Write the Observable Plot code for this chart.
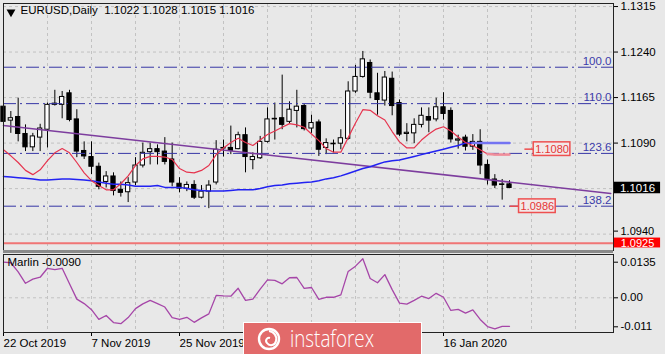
<!DOCTYPE html>
<html><head><meta charset="utf-8">
<script src="https://cdn.jsdelivr.net/npm/d3@7"></script>
<script src="https://cdn.jsdelivr.net/npm/@observablehq/plot@0.6"></script>
<style>
html,body{margin:0;padding:0;background:#e8e8e8;}
#chart{position:relative;width:665px;height:354px;overflow:hidden;background:#e8e8e8;font-family:"Liberation Sans",Arial,sans-serif;}
#main{position:absolute;left:0;top:0;}
#osc{position:absolute;left:0;top:252px;}
#sep{position:absolute;left:3px;width:610px;top:250px;height:3px;background:#8a8a8a;}
#logo{position:absolute;left:243px;top:322px;}
</style></head><body>
<div id="chart"><div id="main"></div><div id="sep"></div><div id="osc"></div>
<svg id="logo" width="180" height="34" viewBox="0 0 180 34">
<rect x="0.5" y="0.5" width="178" height="40" fill="#e26a6a" stroke="#ffffff" stroke-width="1"/>
<circle cx="26" cy="17" r="10" fill="none" stroke="#fff" stroke-width="2.4"/>
<path d="M26 9 A8 8 0 0 1 33 19 A5 5 0 0 1 24 21 A3 3 0 0 1 27 16" fill="none" stroke="#fff" stroke-width="2"/>
<text x="47" y="25" fill="#fff" font-family="Open Sans, sans-serif" font-weight="300" font-size="23" textLength="84" lengthAdjust="spacingAndGlyphs">instaforex</text>
</svg>
</div>
<script>
// ---- data (EURUSD daily, bar index 0 = 22 Oct 2019) ----
const opens = [1.1150,1.1127,1.1133,1.1105,1.1083,1.1099,1.1112,1.1153,1.1153,1.1172,
1.1129,1.1077,1.1067,1.1051,1.1026,1.1035,1.1013,1.1009,1.1025,1.1053,
1.1075,1.1080,1.1076,1.1063,1.1023,1.1015,1.1021,1.1000,1.1010,1.1025,
1.1081,1.1082,1.1080,1.1103,1.1062,1.1065,1.1092,1.1129,1.1131,1.1125,
1.1143,1.1151,1.1114,1.1124,1.1082,1.1088,1.1089,1.1097,1.1175,1.1199,
1.1222,1.1172,1.1160,1.1196,1.1156,1.1105,1.1106,1.1120,1.1133,1.1129,
1.1149,1.1143,1.1094,1.1099,1.1084,1.1092,1.1054,1.1030,1.1021,1.1022];
const highs = [1.1159,1.1142,1.1164,1.1120,1.1106,1.1121,1.1156,1.1177,1.1175,1.1177,
1.1145,1.1092,1.1092,1.1057,1.1043,1.1041,1.1026,1.1033,1.1066,1.1090,
1.1090,1.1087,1.1099,1.1090,1.1033,1.1026,1.1028,1.1020,1.1028,1.1094,
1.1095,1.1118,1.1108,1.1115,1.1074,1.1101,1.1148,1.1156,1.1202,1.1158,
1.1177,1.1154,1.1136,1.1128,1.1097,1.1095,1.1112,1.1191,1.1218,1.1241,
1.1227,1.1205,1.1208,1.1207,1.1161,1.1122,1.1130,1.1148,1.1148,1.1164,
1.1173,1.1148,1.1103,1.1103,1.1104,1.1112,1.1062,1.1038,1.1030,1.1028];
const lows = [1.1120,1.1106,1.1092,1.1076,1.1076,1.1076,1.1082,1.1151,1.1130,1.1125,
1.1066,1.1063,1.1038,1.1013,1.1016,1.1003,1.1001,1.0992,1.1020,1.1049,
1.1054,1.1054,1.1054,1.1018,1.1008,1.1010,1.0997,1.0998,1.0982,1.1021,
1.1067,1.1071,1.1079,1.1041,1.1046,1.1063,1.1090,1.1095,1.1112,1.1122,
1.1115,1.1110,1.1106,1.1068,1.1071,1.1074,1.1079,1.1095,1.1172,1.1197,
1.1163,1.1136,1.1151,1.1135,1.1101,1.1092,1.1089,1.1115,1.1107,1.1125,
1.1128,1.1090,1.1080,1.1077,1.1078,1.1038,1.1021,1.1015,1.0996,1.1015];
const closes = [1.1125,1.1131,1.1105,1.1083,1.1101,1.1114,1.1153,1.1155,1.1166,1.1128,
1.1076,1.1068,1.1051,1.1018,1.1035,1.1011,1.1008,1.1024,1.1053,1.1074,
1.1080,1.1075,1.1059,1.1025,1.1015,1.1021,1.1000,1.1010,1.1020,1.1079,
1.1082,1.1077,1.1103,1.1067,1.1067,1.1092,1.1129,1.1130,1.1120,1.1145,
1.1150,1.1113,1.1123,1.1079,1.1090,1.1089,1.1098,1.1175,1.1199,1.1228,
1.1173,1.1161,1.1198,1.1151,1.1104,1.1107,1.1120,1.1135,1.1127,1.1149,
1.1138,1.1096,1.1096,1.1084,1.1092,1.1053,1.1029,1.1020,1.1022,1.1016];
const redMA = [1.1079,1.1069,1.1058,1.1045,1.1038,1.1046,1.1061,1.1074,1.1081,1.1074,
1.1058,1.1041,1.1028,1.1020,1.1013,1.1013,1.1023,1.1036,1.1053,1.1064,
1.1068,1.1068,1.1067,1.1063,1.1048,1.1042,1.1041,1.1045,1.1053,1.1071,
1.1082,1.1091,1.1098,1.1091,1.1086,1.1095,1.1104,1.1110,1.1116,1.1122,
1.1120,1.1116,1.1105,1.1094,1.1081,1.1075,1.1075,1.1099,1.1123,1.1145,
1.1144,1.1135,1.1128,1.1109,1.1092,1.1082,1.1082,1.1095,1.1105,1.1113,
1.1117,1.1110,1.1100,1.1091,1.1086,1.1079,1.1072,1.1071,1.1071,1.1071];
const blueMA = [1.1035,1.1034,1.1033,1.1032,1.1031,1.1029,1.1029,1.1030,1.1031,1.1031,
1.1030,1.1029,1.1028,1.1026,1.1024,1.1022,1.1022,1.1021,1.1019,1.1019,
1.1019,1.1020,1.1017,1.1017,1.1017,1.1015,1.1013,1.1012,1.1011,1.1011,
1.1011,1.1012,1.1013,1.1013,1.1013,1.1015,1.1018,1.1020,1.1021,1.1023,
1.1024,1.1025,1.1026,1.1028,1.1031,1.1033,1.1036,1.1040,1.1044,1.1048,
1.1051,1.1055,1.1059,1.1061,1.1062,1.1065,1.1068,1.1071,1.1074,1.1077,
1.1080,1.1083,1.1086,1.1090,1.1090,1.1090,1.1090,1.1090,1.1090,1.1090];
const marlin = [0.0135,0.0133,0.0098,0.0055,0.0071,0.0078,0.0112,0.0107,0.0112,0.0053,
-0.0005,-0.0022,-0.0045,-0.0082,-0.0067,-0.0094,-0.0098,-0.0075,-0.0041,-0.0023,
-0.0010,-0.0022,-0.0035,-0.0075,-0.0082,-0.0074,-0.0093,-0.0076,-0.0061,0.0009,
0.0007,0.0006,0.0036,-0.0010,-0.0005,0.0033,0.0068,0.0066,0.0053,0.0076,
0.0077,0.0036,0.0039,-0.0006,0.0002,0.0002,0.0011,0.0100,0.0120,0.0148,
0.0073,0.0057,0.0088,0.0031,-0.0020,-0.0024,-0.0010,0.0006,-0.0003,0.0017,
0.0002,-0.0048,-0.0044,-0.0058,-0.0046,-0.0082,-0.0109,-0.0118,-0.0108,-0.0108];
const fibLabels = ["100.0","110.0","123.6","138.2"];
const fibPrices = [1.1215,1.1155,1.1073,1.0986];
const trendBars = [0, 82.8];
const trendPrices = [1.1119, 1.1007];
const supportLevel = 1.0925;
const currentPrice = 1.1016;
const targetPrices = [1.1080, 1.0986];
const targetBars = [74.8, 72.8];
const priceTicks = [1.1315,1.1240,1.1165,1.1090];
const lowPriceTicks = [1.0940];
const gridPrices = [1.1315,1.1240,1.1165,1.1090,1.1015,1.0940];
const gridBars = [6,12,18,24,30,36,42,48,54,60,66,72,78];
// 11 Dec 2019 and 30 Dec 2019 (bars 36, 48) lie under the logo in the reference
const dateTickBars = [0,12,24,60];
const dateTickLabels = ["22 Oct 2019","7 Nov 2019","25 Nov 2019","16 Jan 2020"];
const marlinTicks = [0.0135, 0, -0.011];
const marlinTickLabels = ["0.0135","0.00","-0.011"];
const header = "EURUSD,Daily  1.1022 1.1028 1.1015 1.1016";
const marlinTitle = "Marlin -0.0090";

// ---- derived tables ----
const bars = opens.map((o,i)=>({i,o,h:highs[i],l:lows[i],c:closes[i]}));
const red = redMA.map((p,i)=>({i,p}));
const blue = blueMA.map((p,i)=>({i,p}));
const osc = marlin.map((v,i)=>({i,v}));
const fibs = fibPrices.map((p,k)=>({p,label:fibLabels[k]}));
const trend = trendBars.map((i,k)=>({i,p:trendPrices[k]}));
const targets = targetPrices.map((p,k)=>({p,at:targetBars[k]}));
const xDomain = [0, 83.18];
const axisBoxL = 83.3, axisBoxR = 89.6;
const grid = {stroke:"#c2c2c2", strokeDasharray:"3,3", strokeWidth:1};
const FONT = "Liberation Sans, Arial, sans-serif";

const main = Plot.plot({
  width:665, height:252, marginLeft:3, marginRight:52, marginTop:3, marginBottom:2,
  style:{background:"transparent", fontFamily:FONT, fontSize:"11.5px", color:"#000"},
  x:{domain:xDomain, axis:null},
  y:{domain:[1.0913,1.1320], axis:null},
  marks:[
    Plot.ruleY(gridPrices, grid),
    Plot.ruleX(gridBars, grid),
    Plot.ruleY([supportLevel], {stroke:"#f07575", strokeWidth:2}),
    Plot.ruleX(bars, {x:"i", y1:"l", y2:"h", stroke:"#000", strokeWidth:1}),
    Plot.rect(bars.filter(d=>d.c>=d.o), {x1:d=>d.i-0.29, x2:d=>d.i+0.29, y1:"o", y2:"c", fill:"#fff", stroke:"#000", strokeWidth:1}),
    Plot.rect(bars.filter(d=>d.c<d.o), {x1:d=>d.i-0.29, x2:d=>d.i+0.29, y1:"o", y2:"c", fill:"#000", stroke:"#000", strokeWidth:1}),
    Plot.ruleY(fibs, {y:"p", stroke:"#3636a6", strokeWidth:1, strokeDasharray:"13,4,2,4"}),
    Plot.line(trend, {x:"i", y:"p", stroke:"#7d3d9e", strokeWidth:1.6}),
    Plot.line(blue, {x:"i", y:"p", stroke:"#2222f2", strokeWidth:1.5}),
    Plot.line(blue.filter(d=>d.i>=64), {x:"i", y:"p", stroke:"#7474f2", strokeWidth:2.5}),
    Plot.line(red, {x:"i", y:"p", stroke:"#e6344e", strokeWidth:1.2}),
    Plot.line(red.filter(d=>d.i>=66), {x:"i", y:"p", stroke:"#f08e9a", strokeWidth:2.5}),
    Plot.text(fibs, {y:"p", frameAnchor:"right", dx:-2, dy:-6, text:"label", textAnchor:"end", fill:"#3a3aaa", fontSize:11.5}),
    Plot.ruleY(targets, {y:"p", x1:d=>d.at-3.7, x2:d=>d.at-2.5, stroke:"#ee4c4c", strokeWidth:1.5}),
    Plot.rect(targets, {x1:d=>d.at-2.5, x2:d=>d.at+2.5, y1:d=>d.p-0.00112, y2:d=>d.p+0.00112, fill:"#f2e8e8", stroke:"#ee5050", strokeWidth:1.5}),
    Plot.text(targets, {x:"at", y:"p", text:d=>d.p.toFixed(4), fill:"#e53535", fontSize:11}),
    Plot.axisY({anchor:"right", ticks:priceTicks, tickFormat:d=>d.toFixed(4), tickSize:4, tickPadding:3, label:null, fontSize:11.5}),
    Plot.axisY({anchor:"right", ticks:lowPriceTicks, tickFormat:d=>d.toFixed(4), tickSize:4, tickPadding:3, label:null, fontSize:11, dy:-3}),
    Plot.frame({stroke:"#222"}),
    Plot.rect([currentPrice], {x1:()=>axisBoxL, x2:()=>axisBoxR, y1:d=>d-0.00095, y2:d=>d+0.00095, fill:"#000"}),
    Plot.text([currentPrice], {x:()=>(axisBoxL+axisBoxR)/2, y:d=>d, text:d=>d.toFixed(4), fill:"#fff", fontSize:11.5}),
    Plot.rect([supportLevel], {x1:()=>axisBoxL, x2:()=>axisBoxR, y1:d=>d-0.00078, y2:d=>d+0.00085, fill:"#ff0000"}),
    Plot.text([supportLevel], {x:()=>(axisBoxL+axisBoxR)/2, y:d=>d, text:d=>d.toFixed(4), fill:"#fff", fontSize:11}),
    Plot.dot([0], {frameAnchor:"top-left", dx:7.5, dy:8.5, symbol:"triangle", r:3.3, rotate:180, fill:"#000", stroke:null}),
    Plot.text([header], {frameAnchor:"top-left", dx:17, dy:2, lineAnchor:"top", textAnchor:"start", fill:"#000", fontSize:11.5})
  ]
});
document.getElementById("main").appendChild(main);

const oscPlot = Plot.plot({
  width:665, height:102, marginLeft:3, marginRight:52, marginTop:2, marginBottom:22,
  style:{background:"transparent", fontFamily:FONT, fontSize:"11.5px", color:"#000"},
  x:{domain:xDomain, axis:null},
  y:{domain:[-0.01316,0.01642], axis:null},
  marks:[
    Plot.ruleY([0], grid),
    Plot.ruleX(gridBars, grid),
    Plot.line(osc, {x:"i", y:"v", stroke:"#a646a8", strokeWidth:1.3}),
    Plot.axisY({anchor:"right", ticks:marlinTicks, tickFormat:d=>marlinTickLabels[marlinTicks.indexOf(d)], tickSize:4, tickPadding:3, label:null, fontSize:11.5}),
    Plot.axisX({anchor:"bottom", ticks:dateTickBars, tickFormat:d=>dateTickLabels[dateTickBars.indexOf(d)], textAnchor:"start", tickSize:4, tickPadding:2, label:null, fontSize:11.5}),
    Plot.frame({stroke:"#222"}),
    Plot.text([marlinTitle], {frameAnchor:"top-left", dx:4, dy:3, lineAnchor:"top", textAnchor:"start", fill:"#000", fontSize:11.5})
  ]
});
document.getElementById("osc").appendChild(oscPlot);
</script>
</body></html>
